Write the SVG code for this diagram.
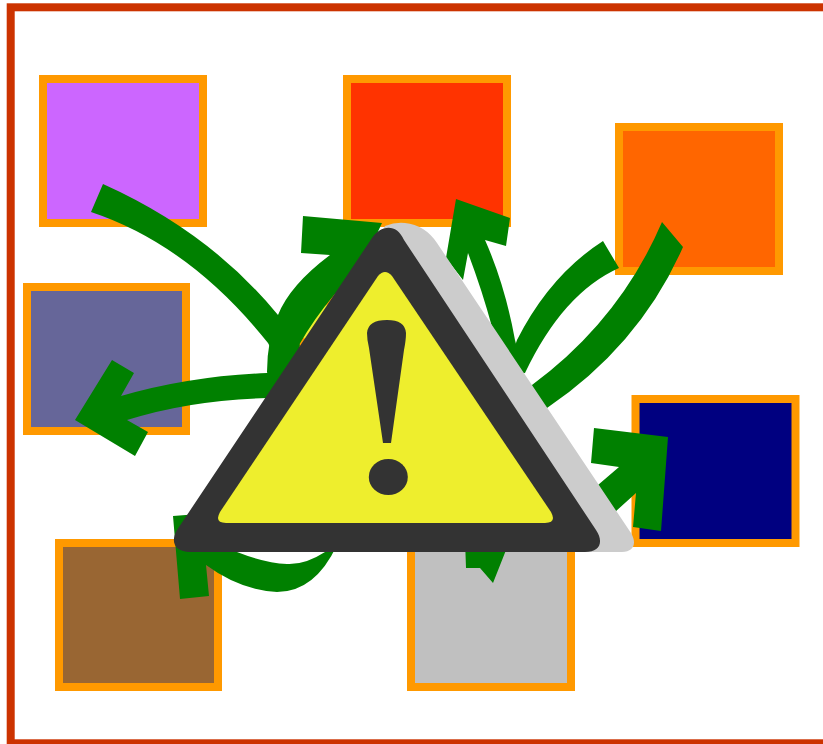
<svg xmlns="http://www.w3.org/2000/svg" width="823" height="744" viewBox="0 0 823 744">
<style>
.box{stroke:#ff9900;stroke-width:8}
.head{fill:#008000}
</style>
<rect width="823" height="744" fill="#ffffff"/>
<rect id="frame" x="10.700" y="7.300" width="830" height="736" fill="none" stroke="#cc3300" stroke-width="8"/>
<g id="node-purple"><rect class="box" x="43" y="79" width="160" height="144" fill="#cc66ff"/></g>
<g id="node-red"><rect class="box" x="347" y="79" width="160" height="144" fill="#ff3300"/></g>
<g id="node-orange"><rect class="box" x="619" y="127" width="160" height="144" fill="#ff6600"/></g>
<g id="node-slate"><rect class="box" x="27" y="287" width="159" height="144" fill="#666699"/></g>
<g id="node-navy"><rect class="box" x="635.500" y="399" width="160" height="144" fill="#000080"/></g>
<g id="node-brown"><rect class="box" x="59" y="543" width="159" height="144" fill="#996633"/></g>
<g id="node-grey"><rect class="box" x="411" y="543" width="160" height="144" fill="#c0c0c0"/></g>
<g id="hub">
<path d="M334,292 L310,312 L296,347 L320,345 Z" fill="#eeee2d"/>
<path d="M334,292 L327,297 L325,306 L336,300 Z" fill="#ff9900"/>
<path d="M296,347 L301,336 L307,340 L302,350 Z" fill="#ff9900"/>
</g>
<g id="connectors">
<path class="head" d="M103,184 Q210,232 278,315 L300,345 L285,375 L268,343 Q190,245 91,212 Z"/>
<path class="head" d="M303,216 L382,223 L360,270 L334,295 Q314.500,318 299,345 L320,400 L275,400 L267,372 Q267,340 278,315 Q290,285 330,255 L301,253 Z"/>
<path class="head" d="M112,360 L134,373 L121,396 Q190,376 267,373 L285,373 L285,398 L267,398 Q190,400 127,420 L148,432 L135,456 L75,420 Z"/>
<path class="head" d="M456,199 L510,218 L506,246 L485,240 Q505,285 515,340 L525,380 L490,380 L492,327 Q482,290 468,253 L463,280 L446,258 Z"/>
<path class="head" d="M603,241 Q550,275 517,340 L505,375 L525,373 Q563,293 619,268 Z"/>
<path class="head" d="M662,222 Q620,320 532,385 L520,400 L547,408 Q640,345 683,247 Z"/>
<path class="head" d="M594,428 L668,437 L661,531 L633,527 L636,493 L615,512 L595,520 L585,495 L598,485 L619,467 L591,463 Z"/>
<polygon class="head" points="465,540 466,568 480,568 493,583 510,540"/>
<path class="head" d="M173,516 L250,510 L237,552 Q265,563 287,564 Q305,565 325,552 L337,545 Q315,592 277,592 Q240,590 206,565 L209,596 L180,599 Z"/>
</g>
<g id="warning">
<path fill="#cccccc" d="M385,226 Q395,222 405,223 Q425,225 437,243 L631,533 C637,543 634,552 622,552 L200,552 Z"/>
<path fill="#333333" d="M372,238 C380,226 396,222 404,240 L596,530 C604,542 600,552 585,552 L190,552 C175,552 170,542 177,530 Z"/>
<path fill="#eeee2d" d="M378,276 Q385,268 392,276 L551,512 Q557,523 545,523 L226,523 Q214,523 220,512 Z"/>
<path fill="#333333" d="M367,333 Q368,320 387,320 Q405,320 406,333 Q406,340 404,350 L391,443 L383,443 L369,348 Q367,340 367,333 Z"/>
<ellipse cx="388.300" cy="477" rx="19.500" ry="18" fill="#333333"/>
</g>
</svg>
